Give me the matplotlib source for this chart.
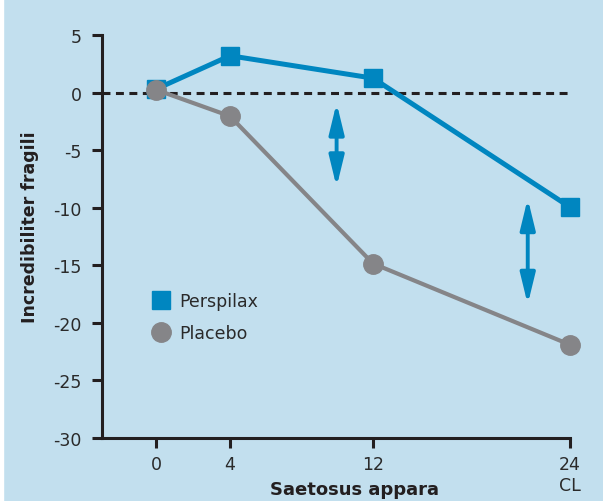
import matplotlib
matplotlib.use("Agg")
import matplotlib.pyplot as plt
from matplotlib.lines import Line2D
from matplotlib.patches import Rectangle

# data
week_pos = [0, 4.29, 12.58, 24]          # visual spacing of the x ticks
week_labels = ["0", "4", "12", "24\nCL"]
perspilax = [0.3, 3.2, 1.25, -9.95]
placebo = [0.25, -2.05, -14.85, -21.9]
y_ticks = [5, 0, -5, -10, -15, -20, -25, -30]

# double arrows marking the gap between groups: (x, y_top, y_bottom)
gap_arrows = [(10.47, -0.9, -8.2), (21.55, -9.2, -18.4)]

bg = "#c2dfee"
blue = "#0086c0"
grey = "#858588"
dark = "#231f20"

plt.rcParams["font.family"] = "DejaVu Sans"

fig = plt.figure(figsize=(6.03, 5.02), dpi=100)
fig.patch.set_facecolor(bg)
fig.add_artist(Rectangle((0, 0), 3 / 603, 1, transform=fig.transFigure,
                         color="white", zorder=10))

ax = fig.add_axes([102 / 603, 63 / 502, 468 / 603, 403 / 502])
ax.set_facecolor(bg)

ax.axhline(0, color=dark, lw=2.2, linestyle=(0, (2.6, 1.8)), zorder=1)

ax.plot(week_pos, perspilax, color=blue, lw=3.6, marker="s", markersize=13.5,
        clip_on=False, zorder=3)
ax.plot(week_pos, placebo, color=grey, lw=3.0, marker="o", markersize=14,
        clip_on=False, zorder=4)

for x, y1, y2 in gap_arrows:
    ax.annotate("", xy=(x, y2), xytext=(x, y1),
                arrowprops=dict(arrowstyle="<|-|>,head_length=1.15,head_width=0.28",
                                color=blue, lw=2.8, shrinkA=0, shrinkB=0,
                                mutation_scale=16))

ax.set_xlim(-3.13, 24)
ax.set_ylim(-30, 5)
ax.set_xticks(week_pos)
ax.set_xticklabels(week_labels)
ax.set_yticks(y_ticks)
ax.set_yticklabels([str(v) for v in y_ticks])

for side in ["top", "right"]:
    ax.spines[side].set_visible(False)
for side in ["left", "bottom"]:
    ax.spines[side].set_color(dark)
    ax.spines[side].set_linewidth(2.2)

ax.tick_params(axis="both", colors=dark, width=2.2, length=7.5,
               labelsize=12.5, labelcolor="#2a2a2a")
ax.tick_params(axis="x", pad=5)
ax.tick_params(axis="y", pad=7)

ax.set_xlabel("Saetosus appara", fontsize=13, fontweight="bold", color=dark,
              va="center")
ax.xaxis.set_label_coords(0.54, -0.127)
ax.set_ylabel("Incredibiliter fragili", fontsize=12.5, fontweight="bold",
              color=dark, va="center")
ax.yaxis.set_label_coords(-72 / 468, 0.525)

handles = [
    Line2D([], [], color=blue, marker="s", linestyle="none", markersize=13.5),
    Line2D([], [], color=grey, marker="o", linestyle="none", markersize=14),
]
leg = ax.legend(handles, ["Perspilax", "Placebo"], frameon=False,
                fontsize=12.5, loc="upper left",
                bbox_to_anchor=(0.075, 0.402), handlelength=1.0,
                handletextpad=0.5, labelspacing=0.85, labelcolor="#2a2a2a")

fig.savefig("out.png", dpi=100, facecolor=bg)
